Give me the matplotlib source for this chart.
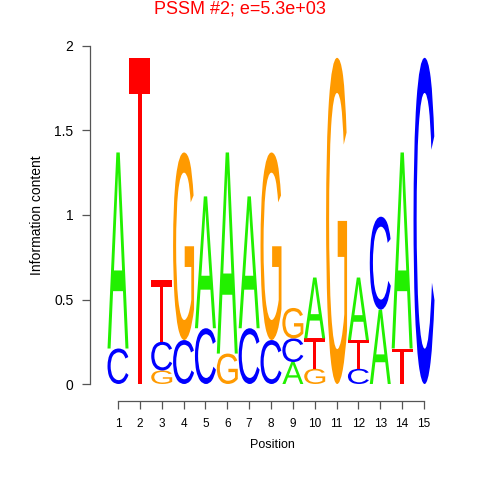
import numpy as np
import matplotlib
matplotlib.use('Agg')
import matplotlib.pyplot as plt
from matplotlib.textpath import TextPath
from matplotlib.font_manager import FontProperties
from matplotlib.patches import PathPatch
from matplotlib.path import Path

plt.rcParams['font.family'] = ['Liberation Sans', 'DejaVu Sans']

# ------------------ data: letters stacked bottom -> top ------------------
positions = list(range(1, 16))
letters = [
    ['C', 'A'],
    ['T'],
    ['G', 'C', 'T'],
    ['C', 'G'],
    ['C', 'A'],
    ['G', 'A'],
    ['C', 'A'],
    ['C', 'G'],
    ['A', 'C', 'G'],
    ['G', 'T', 'A'],
    ['G'],
    ['C', 'T', 'A'],
    ['A', 'C'],
    ['T', 'A'],
    ['C'],
]
heights = [
    [0.21, 1.16],
    [1.93],
    [0.08, 0.17, 0.365],
    [0.26, 1.11],
    [0.33, 0.78],
    [0.18, 1.19],
    [0.33, 0.78],
    [0.26, 1.11],
    [0.13, 0.14, 0.18],
    [0.09, 0.18, 0.36],
    [1.93],
    [0.09, 0.17, 0.37],
    [0.44, 0.55],
    [0.21, 1.16],
    [1.93],
]
colors = {'A': '#22F000', 'C': '#0000FF', 'G': '#FF9A00', 'T': '#FF0000'}

title = 'PSSM #2; e=5.3e+03'

fp = FontProperties(family='Liberation Sans', weight='normal')
glyphs = {}
for ch in 'ACGT':
    tp = TextPath((0, 0), ch, size=1, prop=fp)
    ext = tp.get_extents()
    v = tp.vertices.copy()
    v[:, 0] = (v[:, 0] - ext.x0) / ext.width
    v[:, 1] = (v[:, 1] - ext.y0) / ext.height
    glyphs[ch] = (v, tp.codes)


def draw_letter(ax, ch, x, y0, h, w=0.96):
    v, codes = glyphs[ch]
    vv = v.copy()
    vv[:, 0] = x - w / 2 + vv[:, 0] * w
    vv[:, 1] = y0 + vv[:, 1] * h
    ax.add_patch(PathPatch(Path(vv, codes), facecolor=colors[ch], edgecolor='none'))


W, H = 480, 480
fig = plt.figure(figsize=(4.8, 4.8), dpi=100)
x1_px, x15_px = 118, 424
unit = (x15_px - x1_px) / 14
left_px = x1_px - 0.5 * unit
right_px = x15_px + 0.5 * unit
ax = fig.add_axes([left_px / W, (H - 384) / H, (right_px - left_px) / W, (384 - 46) / H])
ax.set_xlim(0.5, 15.5)
ax.set_ylim(0, 2)

for p, lets, hs in zip(positions, letters, heights):
    y = 0
    for ch, h in zip(lets, hs):
        draw_letter(ax, ch, p, y, h)
        y += h

for s in ['top', 'right']:
    ax.spines[s].set_visible(False)
ax.spines['left'].set_position(('outward', (left_px - 90) * 0.72))
ax.spines['bottom'].set_position(('outward', 17 * 0.72))
ax.spines['left'].set_bounds(0, 2)
ax.spines['bottom'].set_bounds(1, 15)
for s in ['left', 'bottom']:
    ax.spines[s].set_color('#555555')
    ax.spines[s].set_linewidth(0.9)

ax.set_xticks(positions)
ax.set_xticklabels([str(p) for p in positions], fontsize=8.5)
ax.set_yticks([0, 0.5, 1, 1.5, 2])
ax.set_yticklabels(['0', '0.5', '1', '1.5', '2'], fontsize=10)
ax.tick_params(axis='both', direction='out', length=6, width=0.9, color='#555555')
ax.tick_params(axis='x', pad=6)
ax.tick_params(axis='y', pad=6)

fig.text(240 / W, 1 - 9 / H, title, color='#FF0000', fontsize=13, ha='center', va='center')
fig.text(272 / W, 1 - 445 / H, 'Position', fontsize=9, ha='center', va='center')
fig.text(37 / W, 1 - 215 / H, 'Information content', fontsize=10, ha='center', va='center',
         rotation=90)

plt.savefig('out.png', dpi=100)
